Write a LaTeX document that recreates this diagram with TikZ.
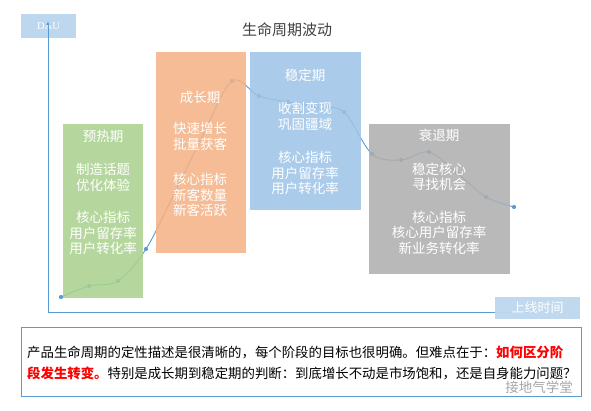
\documentclass[tikz,border=0pt]{standalone}
\usepackage{fontspec}
\setmainfont{Noto Sans CJK SC}
\newfontfamily\dauf{Liberation Serif}
\usetikzlibrary{arrows.meta}
\definecolor{axisblue}{HTML}{5B9BD5}
\definecolor{lightblue}{HTML}{BDD7EE}
\definecolor{cgreen}{HTML}{A9D18E}
\definecolor{corange}{HTML}{F4B183}
\definecolor{cblue}{HTML}{9DC3E6}
\definecolor{cgray}{HTML}{AEAEAE}
\definecolor{titlegray}{HTML}{404040}
\definecolor{fgred}{HTML}{FF0000}
\tikzset{
  phase/.style={fill=#1, fill opacity=0.86, draw=none},
  btxt/.style={text=white, font=\fontsize{13.5}{15.5}\selectfont, align=center, inner sep=0pt},
  lbox/.style={fill=lightblue, draw=none},
  mk/.style={circle, fill=axisblue, inner sep=0pt, minimum size=4.2pt},
  para/.style={anchor=west, inner sep=0pt, font=\fontsize{13.4}{16}\selectfont, text=black}
}
\begin{document}
\begin{tikzpicture}[x=1pt,y=-1pt]
\useasboundingbox (0,0) rectangle (591,411);
% DAU label box
\fill[lbox] (21,14) rectangle (76,38);
\node[text=white, font=\dauf\fontsize{10.5}{12}\selectfont, inner sep=0pt] (dau) at (48.5,26.5) {DAU};
% axes
\coordinate (origin) at (48,312);
\coordinate (ytop) at (48,21);
\coordinate (xend) at (536,312);
\draw[axisblue, line width=0.9pt, -{Latex[length=4pt,width=3.5pt]}] (origin) -- (ytop);
\draw[axisblue, line width=0.9pt, -{Latex[length=4pt,width=3.5pt]}] (origin) -- (xend);
% title
\node[text=titlegray, font=\fontsize{15}{18}\selectfont, inner sep=0pt] (title) at (287,30) {生命周期波动};
% curve
\draw[axisblue, line width=0.9pt] plot[smooth, tension=0.55] coordinates {
 (61,297) (89,286) (118,281) (146,249) (175,192) (203,135) (232,81) (259,96) (288,102) (316,107) (344,112) (372,154) (401,160) (429,152) (457,173) (486,197) (514,207)};
\foreach \p in {(61,297),(89,286),(118,281),(146,249),(232,81),(259,96),(288,102),(316,107),(344,112),(372,154),(401,160),(429,152),(457,173),(486,197),(514,207)}
  \node[mk] at \p {};
% phase boxes
\fill[phase=cgreen] (63,124) rectangle (143,298);
\fill[phase=corange] (156,52) rectangle (246,253);
\fill[phase=cblue] (250,52) rectangle (361,210);
\fill[phase=cgray] (369,124) rectangle (510,274);
% green texts
\node[btxt] (g1) at (103,136) {预热期};
\node[btxt] (g2) at (103,177.5) {制造话题\\优化体验};
\node[btxt] (g3) at (103,233) {核心指标\\用户留存率\\用户转化率};
% orange texts
\node[btxt] (o1) at (200,97) {成长期};
\node[btxt] (o2) at (200,136.5) {快速增长\\批量获客};
\node[btxt] (o3) at (200,195) {核心指标\\新客数量\\新客活跃};
% blue texts
\node[btxt] (b1) at (305,75) {稳定期};
\node[btxt] (b2) at (305,116.5) {收割变现\\巩固疆域};
\node[btxt] (b3) at (305,173) {核心指标\\用户留存率\\用户转化率};
% gray texts
\node[btxt] (r1) at (439,135) {衰退期};
\node[btxt] (r2) at (439,177) {稳定核心\\寻找机会};
\node[btxt] (r3) at (439,232.5) {核心指标\\核心用户留存率\\新业务转化率};
% x axis label
\fill[lbox, fill opacity=0.95] (495,297) rectangle (580,319);
\node[text=white, font=\fontsize{13}{15}\selectfont, inner sep=0pt] (xl) at (537.5,308) {上线时间};
% bottom paragraph box
\draw[axisblue, line width=0.8pt] (21.5,327) rectangle (581,396);
\node[para] (l1) at (27,352) {产品生命周期的定性描述是很清晰的，每个阶段的目标也很明确。但难点在于：{\bfseries\color{fgred}如何区分阶}};
\node[para] (l2) at (27,373) {{\bfseries\color{fgred}段发生转变。}特别是成长期到稳定期的判断：到底增长不动是市场饱和，还是自身能力问题？};
% watermark
\node[text=gray, opacity=0.7, font=\fontsize{13.5}{16}\selectfont, inner sep=0pt] (wm) at (539,387) {接地气学堂};
\end{tikzpicture}
\end{document}
